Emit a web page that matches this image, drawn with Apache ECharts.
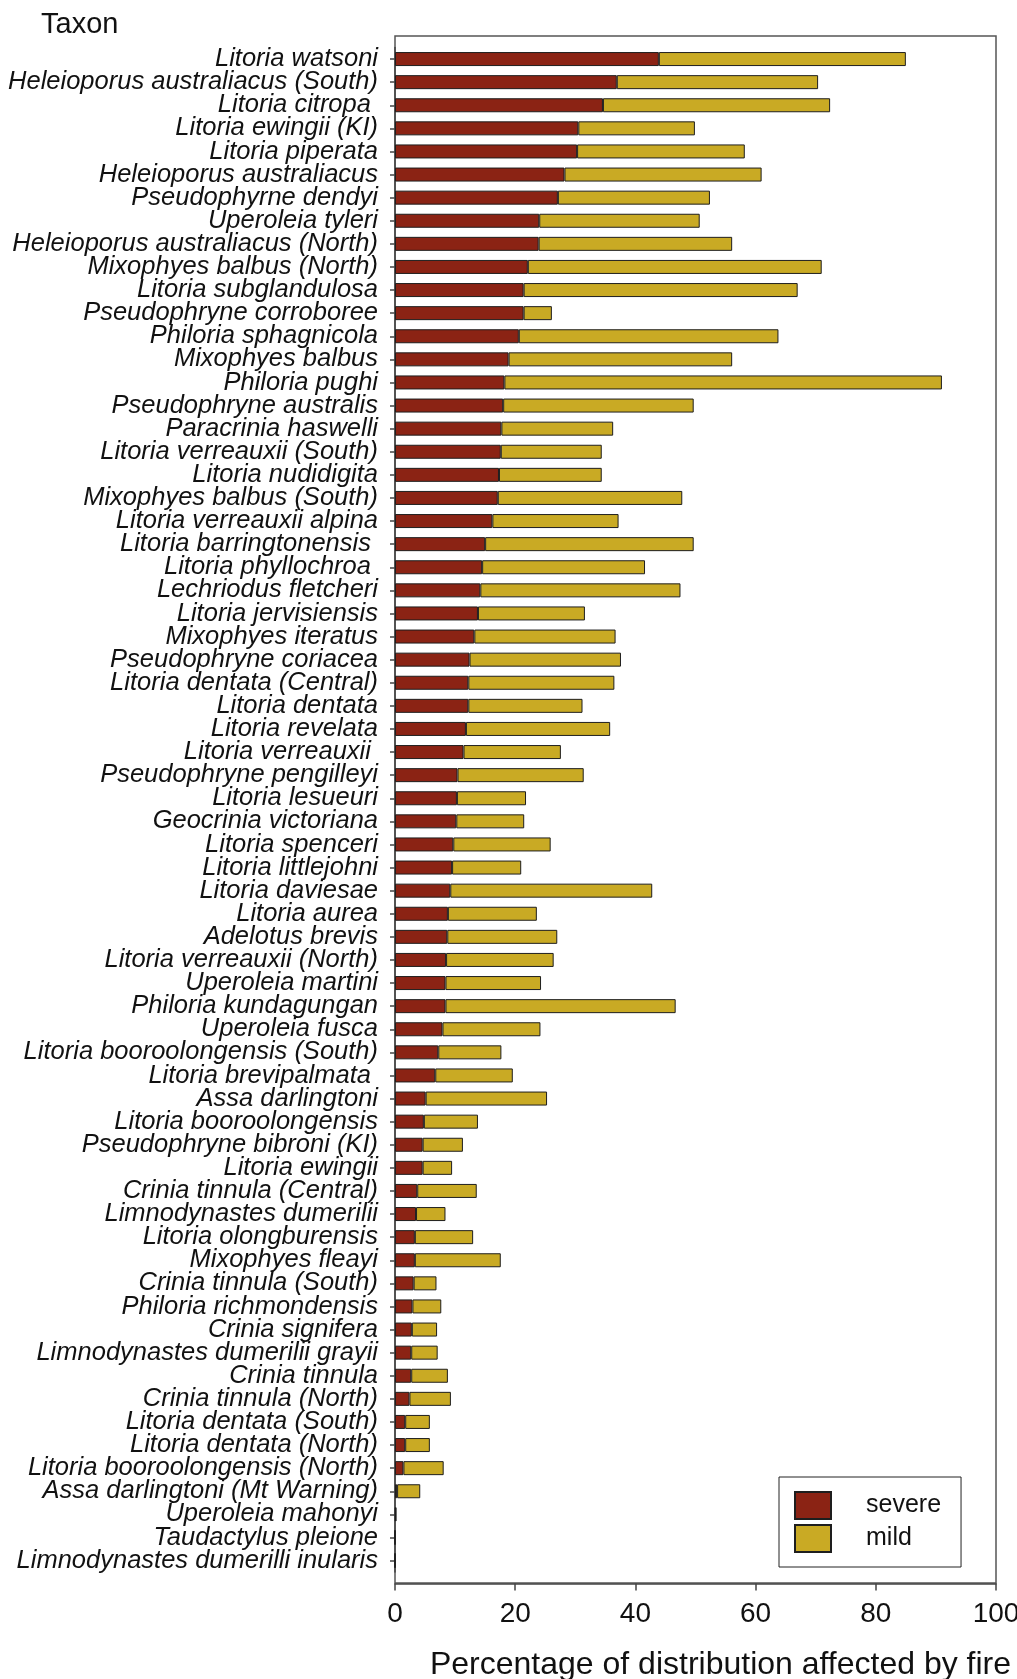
<!DOCTYPE html>
<html>
<head>
<meta charset="utf-8">
<script src="https://cdn.jsdelivr.net/npm/echarts@6/dist/echarts.min.js"></script>
<style>
  html, body { margin: 0; padding: 0; background: #fff; }
  #fireChart { width: 1017px; height: 1679px; }
</style>
</head>
<body>
<div id="fireChart"></div>
<script>
// taxa, top to bottom
var taxa = [
  'Litoria watsoni', 'Heleioporus australiacus (South)', 'Litoria citropa ', 'Litoria ewingii (KI)',
  'Litoria piperata', 'Heleioporus australiacus', 'Pseudophyrne dendyi', 'Uperoleia tyleri',
  'Heleioporus australiacus (North)', 'Mixophyes balbus (North)', 'Litoria subglandulosa',
  'Pseudophryne corroboree', 'Philoria sphagnicola', 'Mixophyes balbus', 'Philoria pughi',
  'Pseudophryne australis', 'Paracrinia haswelli', 'Litoria verreauxii (South)', 'Litoria nudidigita',
  'Mixophyes balbus (South)', 'Litoria verreauxii alpina', 'Litoria barringtonensis ',
  'Litoria phyllochroa ', 'Lechriodus fletcheri', 'Litoria jervisiensis', 'Mixophyes iteratus',
  'Pseudophryne coriacea', 'Litoria dentata (Central)', 'Litoria dentata', 'Litoria revelata',
  'Litoria verreauxii ', 'Pseudophryne pengilleyi', 'Litoria lesueuri', 'Geocrinia victoriana',
  'Litoria spenceri', 'Litoria littlejohni', 'Litoria daviesae', 'Litoria aurea', 'Adelotus brevis',
  'Litoria verreauxii (North)', 'Uperoleia martini', 'Philoria kundagungan', 'Uperoleia fusca',
  'Litoria booroolongensis (South)', 'Litoria brevipalmata ', 'Assa darlingtoni',
  'Litoria booroolongensis', 'Pseudophryne bibroni (KI)', 'Litoria ewingii', 'Crinia tinnula (Central)',
  'Limnodynastes dumerilii', 'Litoria olongburensis', 'Mixophyes fleayi', 'Crinia tinnula (South)',
  'Philoria richmondensis', 'Crinia signifera', 'Limnodynastes dumerilii grayii', 'Crinia tinnula',
  'Crinia tinnula (North)', 'Litoria dentata (South)', 'Litoria dentata (North)',
  'Litoria booroolongensis (North)', 'Assa darlingtoni (Mt Warning)', 'Uperoleia mahonyi',
  'Taudactylus pleione', 'Limnodynastes dumerilli inularis'
];

// % of distribution burnt severely
var severe = [
  43.9, 36.9, 34.6, 30.5, 30.3, 28.2, 27.1, 24.0, 23.9, 22.1, 21.4,
  21.4, 20.6, 18.9, 18.2, 18.0, 17.7, 17.6, 17.3, 17.1, 16.2, 15.0,
  14.5, 14.2, 13.8, 13.2, 12.4, 12.2, 12.2, 11.8, 11.4, 10.4, 10.3,
  10.2, 9.7, 9.5, 9.2, 8.8, 8.7, 8.5, 8.4, 8.4, 7.9, 7.2,
  6.7, 5.1, 4.8, 4.6, 4.6, 3.7, 3.5, 3.3, 3.3, 3.1, 2.9,
  2.8, 2.7, 2.7, 2.4, 1.7, 1.7, 1.4, 0.35, 0.1, 0, 0
];

// % of distribution burnt mildly
var mild = [
  41.1, 33.5, 37.8, 19.4, 27.9, 32.8, 25.3, 26.7, 32.2, 48.9, 45.6,
  4.7, 43.2, 37.2, 72.8, 31.7, 18.6, 16.8, 17.1, 30.7, 21.0, 34.7,
  27.1, 33.3, 17.8, 23.5, 25.2, 24.3, 19.0, 24.0, 16.2, 21.0, 11.5,
  11.3, 16.2, 11.5, 33.6, 14.8, 18.3, 17.9, 15.9, 38.3, 16.3, 10.5,
  12.9, 20.2, 9.0, 6.7, 4.9, 9.9, 4.9, 9.7, 14.3, 3.8, 4.8,
  4.2, 4.4, 6.1, 6.9, 4.1, 4.1, 6.7, 3.85, 0.1, 0, 0
];

var xTicks = [0, 20, 40, 60, 80, 100];

var fireChart = echarts.init(document.getElementById('fireChart'), null, { renderer: 'canvas' });

var barEdge = { borderColor: '#1e1e1e', borderWidth: 1 };

var option = {
  animation: false,
  backgroundColor: '#ffffff',
  textStyle: { fontFamily: 'Liberation Sans, Arial, sans-serif', color: '#111' },
  title: {
    text: 'Taxon',
    left: 36,
    top: 5,
    textStyle: { fontSize: 29, fontWeight: 'normal', color: '#111', fontFamily: 'Liberation Sans, Arial, sans-serif' }
  },
  legend: {
    orient: 'vertical',
    left: 779,
    top: 1477,
    itemWidth: 36,
    itemHeight: 27,
    itemGap: 4,
    padding: [14, 20, 14, 15],
    borderColor: '#222',
    borderWidth: 1,
    backgroundColor: '#fff',
    textStyle: { fontSize: 25, color: '#111', padding: [0, 0, 0, 30] },
    data: [
      { name: 'severe', icon: 'rect' },
      { name: 'mild', icon: 'rect' }
    ]
  },
  grid: [
    // frame box
    { show: true, left: 395, right: 21, top: 36, height: 1547, outerBoundsMode: 'none', containLabel: false,
      borderColor: '#555', borderWidth: 1.5, backgroundColor: 'transparent' },
    // data area, half a row inside the frame at top and bottom
    { left: 395, right: 21, top: 47.5, height: 1524.6, outerBoundsMode: 'none', containLabel: false }
  ],
  xAxis: [{
    gridIndex: 1,
    type: 'value',
    min: 0,
    max: 100,
    interval: 20,
    offset: 11.5,
    axisLine: { show: true, lineStyle: { color: '#444', width: 1.5 } },
    axisTick: { show: true, inside: false, length: 7, lineStyle: { color: '#444', width: 1.5 } },
    axisLabel: {
      fontSize: 28, color: '#111', margin: 17,
      customValues: xTicks,
      formatter: function (v) { return String(v); }
    },
    splitLine: { show: false },
    name: 'Percentage of distribution affected by fire',
    nameLocation: 'middle',
    nameGap: 66,
    nameTextStyle: { fontSize: 32, color: '#111', padding: [0, 0, 0, 50] }
  }],
  yAxis: [{
    gridIndex: 1,
    type: 'category',
    inverse: true,
    data: taxa,
    axisLine: { show: true, lineStyle: { color: '#444', width: 1.5 } },
    axisTick: { show: true, alignWithLabel: true, interval: 0, length: 5, lineStyle: { color: '#444', width: 1.5 } },
    axisLabel: { interval: 0, fontSize: 25.5, fontStyle: 'italic', color: '#111', margin: 17 },
    splitLine: { show: false }
  }],
  series: [
    {
      name: 'severe',
      type: 'bar',
      stack: 'fire',
      xAxisIndex: 0,
      yAxisIndex: 0,
      barWidth: 14,
      itemStyle: Object.assign({ color: '#8b2314' }, barEdge),
      data: severe
    },
    {
      name: 'mild',
      type: 'bar',
      stack: 'fire',
      xAxisIndex: 0,
      yAxisIndex: 0,
      barWidth: 14,
      itemStyle: Object.assign({ color: '#c9aa24' }, barEdge),
      data: mild
    }
  ]
};

fireChart.setOption(option);
</script>
</body>
</html>
